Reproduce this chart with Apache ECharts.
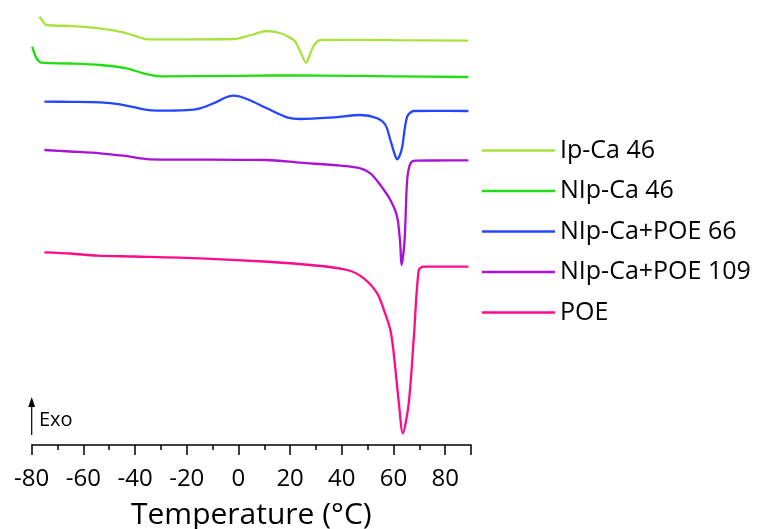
<!DOCTYPE html>
<html>
<head>
<meta charset="utf-8">
<script src="https://cdn.jsdelivr.net/npm/echarts@6/dist/echarts.min.js"></script>
<style>
  html, body { margin: 0; padding: 0; background: #fff; }
  #main { width: 760px; height: 529px; }
</style>
</head>
<body>
<div id="main"></div>
<script>
// DSC curves, y is stacked heat flow in arbitrary units (offset per sample)
var names = ['Ip-Ca 46', 'NIp-Ca 46', 'NIp-Ca+POE 66', 'NIp-Ca+POE 109', 'POE'];
var colors = ['#a8e23e', '#22dd11', '#2446ff', '#a612d6', '#ff0a8c'];

var ipT = [-77, -75.5, -74.2, -65, -53.5, -44.6, -38, -35.4, -20, -1.9, 5, 11, 16, 18.8, 22, 24, 26.2, 28, 29.8, 31.7, 40, 60, 89];
var ipY = [428.3, 423, 420, 419, 416.7, 412.7, 407.5, 405.7, 405.7, 406, 410, 414, 412, 409, 403.3, 393, 382.3, 393, 401.7, 405, 405.2, 404.8, 404.3];

var nipT = [-79.8, -78.1, -76.1, -65, -53.5, -43.2, -36.7, -30.3, 0, 24, 60, 89];
var nipY = [398.3, 386.7, 382.3, 381.5, 380, 376.7, 371.7, 368.7, 369.2, 369.7, 368.7, 368];

var poe66T = [-75.1, -65, -53.5, -45.8, -36.7, -31.6, -20, -14.8, -9.6, -5, -1.9, 3.3, 11, 18.8, 24, 36.9, 47.2, 53.7, 56.9, 58.8, 60.2, 61.4, 62.5, 63.4, 65.3, 67.9, 75, 89];
var poe66Y = [343.3, 343.2, 342.7, 340.7, 335.7, 334.3, 334.8, 336.7, 341.7, 347.5, 349.3, 346, 336.7, 327.7, 326, 327.7, 330, 326.7, 320, 305, 293, 285.7, 290, 298.3, 328.3, 334, 334.2, 334];

var poe109T = [-75.1, -65, -53.5, -44.5, -34.2, 0, 11, 24, 39.5, 47.2, 51.1, 54.9, 58.8, 61.4, 62.6, 63.1, 64.3, 65.3, 66.6, 68.5, 75, 89];
var poe109Y = [295, 293.5, 291.7, 289.3, 285.7, 285.2, 285, 282.3, 279.3, 276.7, 271.7, 260, 245, 228.3, 201.7, 180, 205, 265, 281.7, 284.3, 284.5, 284.7];

var poeT = [-75.1, -65, -54.8, -40, -14.8, 10, 27.9, 42.1, 48.5, 53.7, 56.3, 58.8, 60.1, 62.1, 63.6, 65.9, 67.9, 69.8, 71.7, 80, 89];
var poeY = [192.7, 191.5, 189.3, 188.5, 186.7, 183.5, 180, 175, 166.7, 151.7, 135, 115, 91.7, 41.7, 11.7, 41.7, 108.3, 175, 178.3, 178.3, 178.3];

var curves = [[ipT, ipY], [nipT, nipY], [poe66T, poe66Y], [poe109T, poe109Y], [poeT, poeY]];

function pairs(xs, ys) {
  return xs.map(function (x, i) { return [x, ys[i]]; });
}

var font = '"Open Sans", "Liberation Sans", sans-serif';

var series = curves.map(function (c, i) {
  return {
    name: names[i],
    type: 'line',
    data: pairs(c[0], c[1]),
    symbol: 'none',
    smooth: 0.3,
    lineStyle: { color: colors[i], width: 2.3 },
    itemStyle: { color: colors[i] }
  };
});

var option = {
  animation: false,
  backgroundColor: '#fff',
  grid: { left: 31.7, right: 289, top: 10, bottom: 84, containLabel: false, outerBoundsMode: 'none' },
  legend: {
    orient: 'vertical',
    left: 482,
    top: 138,
    padding: 0,
    icon: 'rect',
    itemWidth: 73,
    itemHeight: 2.5,
    itemGap: 15.5,
    textStyle: { fontFamily: font, fontSize: 25, color: '#000' },
    data: names
  },
  xAxis: {
    type: 'value',
    min: -80,
    max: 90,
    interval: 20,
    name: 'Temperature (°C)',
    nameLocation: 'middle',
    nameGap: 55,
    nameTextStyle: { fontFamily: font, fontSize: 30, color: '#000' },
    axisLine: { onZero: false, lineStyle: { color: '#000', width: 1.5 } },
    axisTick: { length: 10, lineStyle: { color: '#000', width: 1.5 } },
    minorTick: { show: true, splitNumber: 2, length: 5, lineStyle: { color: '#000', width: 1.5 } },
    axisLabel: { fontFamily: font, fontSize: 24, color: '#000', margin: 22 },
    splitLine: { show: false }
  },
  yAxis: {
    type: 'value',
    min: 0,
    max: 435,
    show: false
  },
  graphic: [
    { type: 'line', shape: { x1: 31.7, y1: 435, x2: 31.7, y2: 405 }, style: { stroke: '#000', lineWidth: 1.2 } },
    { type: 'polygon', shape: { points: [[31.7, 397], [28.3, 407], [35.1, 407]] }, style: { fill: '#000' } },
    { type: 'text', left: 39, top: 410, style: { text: 'Exo', fontFamily: font, fontSize: 20, fill: '#000' } }
  ],
  series: series
};

var myChart = echarts.init(document.getElementById('main'));
myChart.setOption(option);
</script>
</body>
</html>
